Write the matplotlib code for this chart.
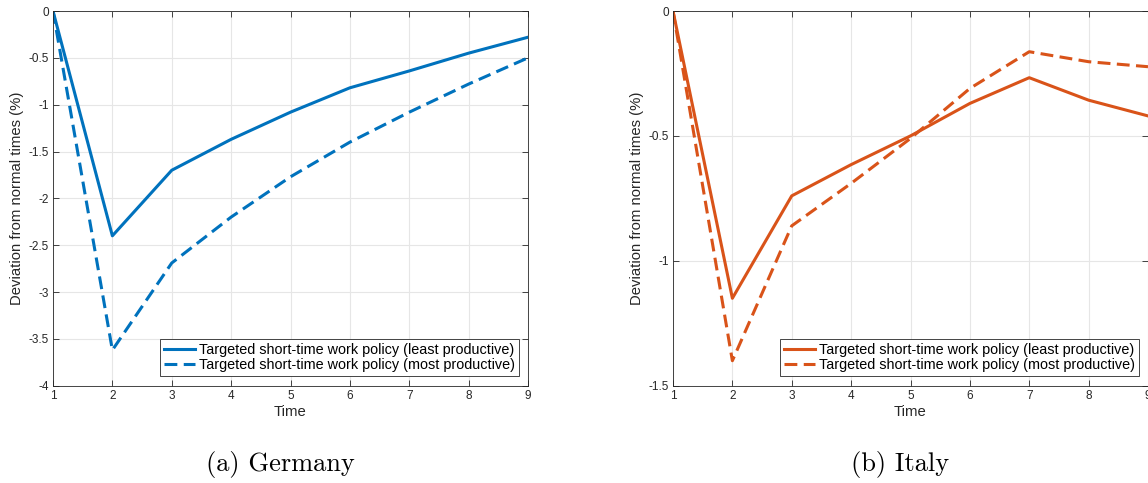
import numpy as np
import matplotlib.pyplot as plt
from matplotlib.ticker import FormatStrFormatter

# 数据
time = [1, 2, 3, 4, 5, 6, 7, 8, 9]
de_least = [0, -2.40, -1.70, -1.37, -1.08, -0.82, -0.64, -0.45, -0.28]
de_most = [0, -3.62, -2.69, -2.20, -1.77, -1.40, -1.08, -0.78, -0.50]
it_least = [0, -1.15, -0.74, -0.615, -0.50, -0.37, -0.267, -0.357, -0.42]
it_most = [0, -1.40, -0.86, -0.69, -0.51, -0.31, -0.163, -0.203, -0.223]
labels = ['Targeted short-time work policy (least productive)',
          'Targeted short-time work policy (most productive)']

blue = '#0072BD'
orange = '#D95319'
dash = (0, (4.2, 2.1))

plt.rcParams['font.family'] = ['Liberation Sans', 'DejaVu Sans']

fig = plt.figure(figsize=(11.48, 4.83), dpi=100)
W, H = 1148, 483


def make_axes(x0, x1, y0, y1):
    return fig.add_axes([x0 / W, 1 - y1 / H, (x1 - x0) / W, (y1 - y0) / H])


def style(ax, ymin, yticks):
    ax.set_xlim(1, 9)
    ax.set_ylim(ymin, 0)
    ax.set_xticks(time)
    ax.set_yticks(yticks)
    ax.yaxis.set_major_formatter(FormatStrFormatter('%g'))
    ax.grid(True, color='#e6e6e6', linewidth=0.8)
    ax.set_axisbelow(True)
    ax.tick_params(direction='in', top=True, right=True, labelsize=8.5,
                   colors='#262626', length=4, width=0.6, pad=3)
    for s in ax.spines.values():
        s.set_color('#262626')
        s.set_linewidth(0.6)
    ax.set_xlabel('Time', fontsize=10.7, color='#262626', labelpad=2)
    ax.set_ylabel('Deviation from normal times (%)', fontsize=10.7,
                  color='#262626', labelpad=3)


def add_legend(ax):
    leg = ax.legend(loc='lower right', bbox_to_anchor=(0.981, 0.026),
                    fontsize=10.4, fancybox=False, edgecolor='#262626',
                    framealpha=1, handlelength=2.15, borderpad=0.25,
                    labelspacing=0.12, handletextpad=0.32, borderaxespad=0)
    leg.get_frame().set_linewidth(0.6)


ax1 = make_axes(53, 528, 11, 385.7)
ax1.plot(time, de_least, color=blue, lw=2.2, label=labels[0])
ax1.plot(time, de_most, color=blue, lw=2.2, ls=dash, label=labels[1])
style(ax1, -4, np.arange(-4, 0.01, 0.5))
add_legend(ax1)

ax2 = make_axes(673, 1148, 11, 385.7)
ax2.plot(time, it_least, color=orange, lw=2.2, label=labels[0])
ax2.plot(time, it_most, color=orange, lw=2.2, ls=dash, label=labels[1])
style(ax2, -1.5, [-1.5, -1, -0.5, 0])
add_legend(ax2)

fig.text(280 / W, 1 - 465 / H, '(a) Germany', family='cmr10', fontsize=19,
         ha='center', va='center')
fig.text(900 / W, 1 - 465 / H, '(b) Italy', family='cmr10', fontsize=19,
         ha='center', va='center')

fig.savefig('out.png', dpi=100)
